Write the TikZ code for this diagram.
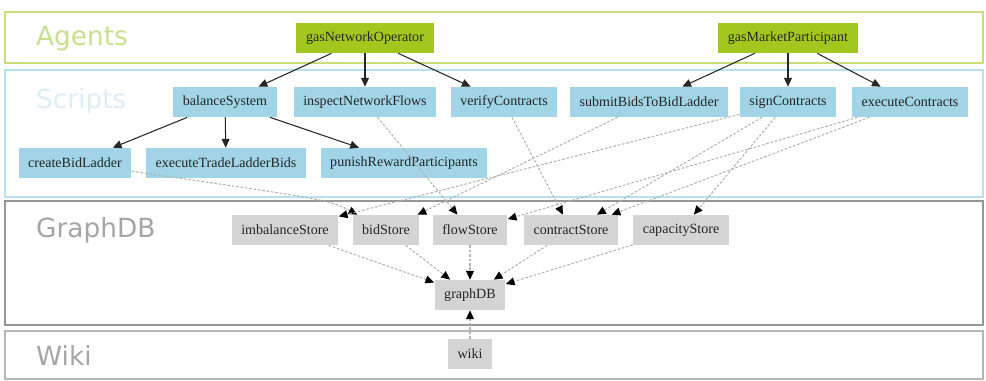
\documentclass[tikz,border=0pt]{standalone}
\usepackage{fontspec}
\setmainfont{Liberation Serif}
\newfontfamily\bandfont{DejaVu Sans}
\usetikzlibrary{arrows.meta}
\definecolor{agentgreen}{RGB}{162,200,32}
\definecolor{agentline}{RGB}{200,222,120}
\definecolor{agenttext}{RGB}{198,224,140}
\definecolor{scriptblue}{RGB}{160,212,230}
\definecolor{scriptline}{RGB}{185,224,238}
\definecolor{scripttext}{RGB}{222,238,246}
\definecolor{storegray}{RGB}{212,212,212}
\definecolor{bandgray}{RGB}{150,150,150}
\definecolor{bandtext}{RGB}{165,165,165}

\begin{document}
\begin{tikzpicture}[x=0.02cm, y=-0.02cm,
    box/.style={rectangle, minimum height=0.6cm, inner xsep=5.5pt,
        font=\fontsize{8}{9}\selectfont, text=black!85},
    agent/.style={box, fill=agentgreen},
    script/.style={box, fill=scriptblue},
    store/.style={box, fill=storegray},
    bandtitle/.style={anchor=west, font=\bandfont\fontsize{15}{16}\selectfont},
    calls/.style={draw=black!85, line width=0.6pt, -{Triangle[length=5pt,width=4.5pt]}},
    datalink/.style={draw=black!30, line width=0.6pt, dash pattern=on 1.5pt off 1pt,
        -{Triangle[length=5pt,width=4.5pt,color=black]}}]
    \useasboundingbox (0,0) rectangle (986,380);

    % bands
    \draw[agentline, line width=1.5pt] (5,12) rectangle (983,63);
    \draw[scriptline, line width=1.5pt] (5,70) rectangle (983,197);
    \draw[bandgray, line width=1.5pt] (5,201) rectangle (983,325);
    \draw[bandgray!70, line width=1.5pt] (5,331) rectangle (983,379);
    \node[bandtitle, text=agenttext] (agentsTitle) at (30,39) {Agents};
    \node[bandtitle, text=scripttext] (scriptsTitle) at (30,101) {Scripts};
    \node[bandtitle, text=bandtext] (graphdbTitle) at (30,230) {GraphDB};
    \node[bandtitle, text=bandtext] (wikiTitle) at (30,355) {Wiki};

    % agents
    \node[agent] (gasNetworkOperator) at (365,38) {gasNetworkOperator};
    \node[agent] (gasMarketParticipant) at (788,38) {gasMarketParticipant};

    % scripts
    \node[script] (balanceSystem) at (225,102) {balanceSystem};
    \node[script] (inspectNetworkFlows) at (365,102) {inspectNetworkFlows};
    \node[script] (verifyContracts) at (504,102) {verifyContracts};
    \node[script] (submitBidsToBidLadder) at (649,102) {submitBidsToBidLadder};
    \node[script] (signContracts) at (788,102) {signContracts};
    \node[script] (executeContracts) at (910,102) {executeContracts};
    \node[script] (createBidLadder) at (75,163) {createBidLadder};
    \node[script] (executeTradeLadderBids) at (226,163) {executeTradeLadderBids};
    \node[script] (punishRewardParticipants) at (404,163) {punishRewardParticipants};

    % stores
    \node[store] (imbalanceStore) at (285,230) {imbalanceStore};
    \node[store] (bidStore) at (386,230) {bidStore};
    \node[store] (flowStore) at (470,230) {flowStore};
    \node[store] (contractStore) at (571,230) {contractStore};
    \node[store] (capacityStore) at (681,230) {capacityStore};
    \node[store] (graphDB) at (470,295) {graphDB};
    \node[store] (wiki) at (470,354) {wiki};

    % agent -> script
    \draw[calls] (gasNetworkOperator) -- (balanceSystem);
    \draw[calls] (gasNetworkOperator) -- (inspectNetworkFlows);
    \draw[calls] (gasNetworkOperator) -- (verifyContracts);
    \draw[calls] (gasMarketParticipant) -- (submitBidsToBidLadder);
    \draw[calls] (gasMarketParticipant) -- (signContracts);
    \draw[calls] (gasMarketParticipant) -- (executeContracts);
    \draw[calls] (balanceSystem) -- (createBidLadder);
    \draw[calls] (balanceSystem) -- (executeTradeLadderBids);
    \draw[calls] (balanceSystem) -- (punishRewardParticipants);

    % script -> store
    \draw[datalink] (createBidLadder) .. controls (330,200) .. (bidStore);
    \draw[datalink] (submitBidsToBidLadder) -- (bidStore);
    \draw[datalink] (inspectNetworkFlows) -- (flowStore);
    \draw[datalink] (verifyContracts) -- (contractStore);
    \draw[datalink] (signContracts) -- (capacityStore);
    \draw[datalink] (signContracts) -- (contractStore);
    \draw[datalink] (signContracts) -- (imbalanceStore);
    \draw[datalink] (executeContracts) -- (contractStore);
    \draw[datalink] (executeContracts) -- (flowStore);

    % store -> graphDB
    \draw[datalink] (imbalanceStore) -- (graphDB);
    \draw[datalink] (bidStore) -- (graphDB);
    \draw[datalink] (flowStore) -- (graphDB);
    \draw[datalink] (contractStore) -- (graphDB);
    \draw[datalink] (capacityStore) -- (graphDB);
    \draw[datalink] (wiki) -- (graphDB);
\end{tikzpicture}
\end{document}
